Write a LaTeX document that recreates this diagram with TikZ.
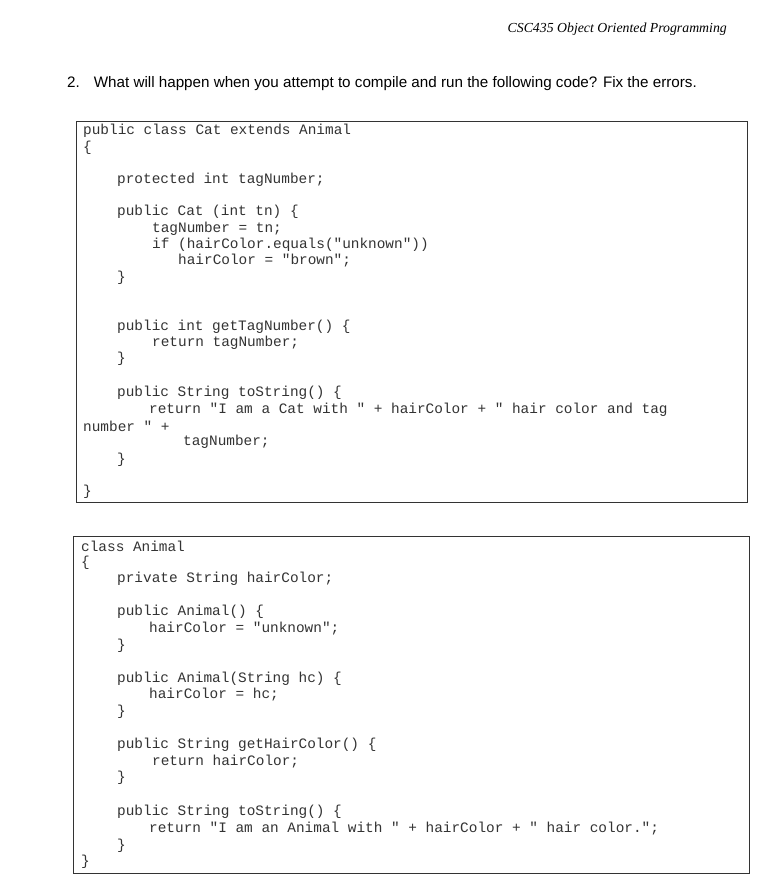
\documentclass[tikz,border=0pt]{standalone}
\usepackage{fontspec}
\setmainfont{Liberation Serif}
\setsansfont{Liberation Sans}
\setmonofont{Liberation Mono}
\tikzset{code/.style={anchor=west,inner sep=0pt,font=\ttfamily\fontsize{14.4}{16}\selectfont,text=black!80},
box/.style={draw=black!80,line width=0.8pt}}
\newcommand\CL[4]{\node[code] (#1) at (#2pt,-#3pt) {#4};}
\begin{document}
\begin{tikzpicture}[x=1pt,y=1pt]
\useasboundingbox[fill=white] (0,0) rectangle (768,-888);
\node[anchor=east,inner sep=0pt,font=\itshape\fontsize{13.8}{16}\selectfont] (hdr) at (727,-29) {CSC435 Object Oriented Programming};
\node[anchor=west,inner sep=0pt,font=\sffamily\fontsize{15.2}{17}\selectfont] (q) at (67,-84) {2.\hspace{14pt}What will happen when you attempt to compile and run the following code? Fix the errors.};
\draw[box] (76,-121) rectangle (747,-502);
\draw[box] (73,-536) rectangle (749,-873);
\CL{a1}{83}{131}{public class Cat extends Animal}
\CL{a2}{83}{148}{\{}
\CL{a3}{117}{180}{protected int tagNumber;}
\CL{a4}{117}{212}{public Cat (int tn) \{}
\CL{a5}{152}{229}{tagNumber = tn;}
\CL{a6}{152}{245}{if (hairColor.equals("unknown"))}
\CL{a7}{178}{261}{hairColor = "brown";}
\CL{a8}{117}{278}{\}}
\CL{a9}{117}{327}{public int getTagNumber() \{}
\CL{a10}{152}{343}{return tagNumber;}
\CL{a11}{117}{359}{\}}
\CL{a12}{117}{393}{public String toString() \{}
\CL{a13}{149}{410}{return "I am a Cat with " + hairColor + " hair color and tag}
\CL{a14}{83}{426}{number " +}
\CL{a15}{183}{442}{tagNumber;}
\CL{a16}{117}{460}{\}}
\CL{a17}{83}{492}{\}}
\CL{b1}{81}{546}{class Animal}
\CL{b2}{81}{563}{\{}
\CL{b3}{117}{579}{private String hairColor;}
\CL{b4}{117}{612}{public Animal() \{}
\CL{b5}{149}{629}{hairColor = "unknown";}
\CL{b6}{117}{646}{\}}
\CL{b7}{117}{679}{public Animal(String hc) \{}
\CL{b8}{149}{695}{hairColor = hc;}
\CL{b9}{117}{712}{\}}
\CL{b10}{117}{745}{public String getHairColor() \{}
\CL{b11}{152}{762}{return hairColor;}
\CL{b12}{117}{778}{\}}
\CL{b13}{117}{812}{public String toString() \{}
\CL{b14}{149}{829}{return "I am an Animal with " + hairColor + " hair color.";}
\CL{b15}{117}{846}{\}}
\CL{b16}{81}{862}{\}}
\end{tikzpicture}
\end{document}
